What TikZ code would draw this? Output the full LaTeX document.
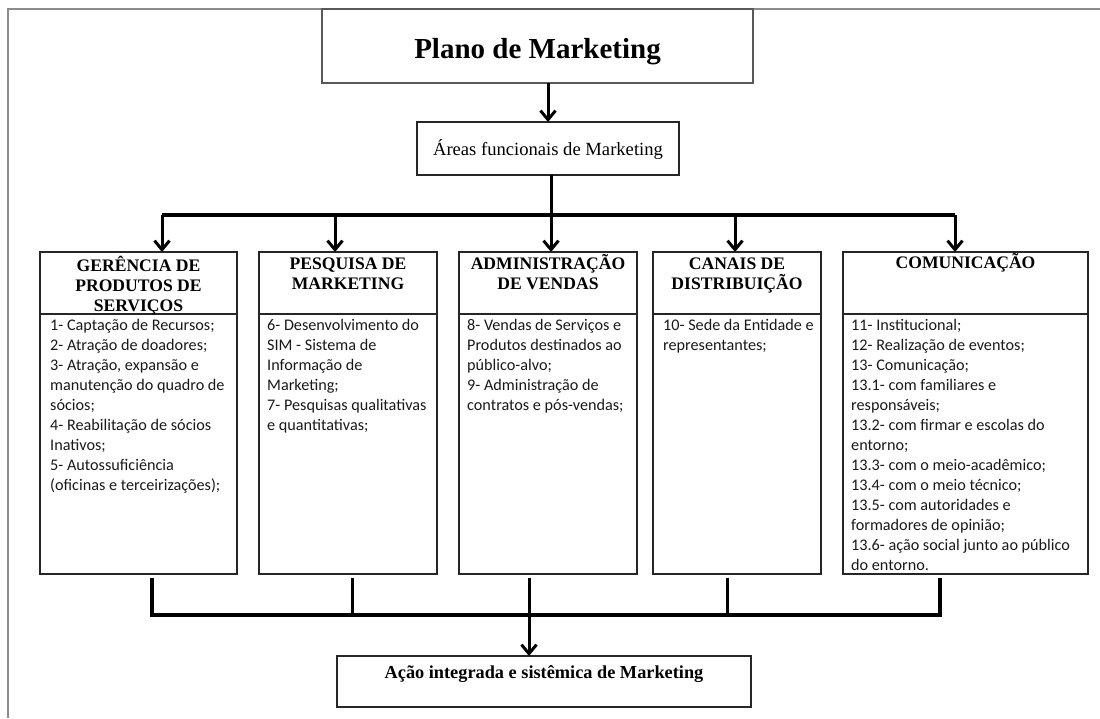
\documentclass[tikz,border=0pt]{standalone}
\usepackage{fontspec}
\setmainfont{Liberation Serif}
\newfontfamily\bodyfont{Carlito}
\usetikzlibrary{arrows.meta}
\begin{document}
\begin{tikzpicture}[x=1pt,y=-1pt,
  box/.style={draw=black!85,line width=1.1pt,inner sep=0pt,outer sep=0pt,anchor=north west},
  headtxt/.style={anchor=north,align=center,inner sep=0pt,font=\bfseries\fontsize{17.6}{20}\selectfont},
  bodytxt/.style={anchor=north west,align=left,inner sep=0pt,font=\bodyfont\fontsize{16.2}{20}\selectfont,text=black!90},
  stem/.style={line width=3pt},
  bus/.style={line width=4.5pt,line join=miter},
  arr/.style={line width=3pt,-{Straight Barb[length=9pt,width=15pt]}},
  frame/.style={draw=black!45,line width=1.2pt}
]
\useasboundingbox (0,0) rectangle (1100,718);
% page frame
\coordinate (fa) at (8,718);
\coordinate (fb) at (8,9);
\coordinate (fc) at (1100,9);
\draw[frame] (fa) -- (fb) -- (fc);

% title
\node[box,draw=black!65,line width=1.8pt,minimum width=431pt,minimum height=74pt] (plan) at (322,9) {};
\node[anchor=base,inner sep=0pt,font=\bfseries\fontsize{29}{34}\selectfont] (plantxt) at (537.5,58) {Plano de Marketing};

% areas
\node[box,minimum width=262pt,minimum height=53pt] (areas) at (417,122) {};
\node[anchor=base,inner sep=0pt,font=\fontsize{18.6}{22}\selectfont] (areastxt) at (548,155) {Áreas funcionais de Marketing};

% columns: headers and bodies
\node[box,minimum width=197pt,minimum height=62pt] (h1) at (40,252) {};
\node[box,minimum width=197pt,minimum height=260pt] (b1) at (40,314) {};
\node[box,minimum width=178pt,minimum height=62pt] (h2) at (259,252) {};
\node[box,minimum width=178pt,minimum height=260pt] (b2) at (259,314) {};
\node[box,minimum width=178pt,minimum height=62pt] (h3) at (459,252) {};
\node[box,minimum width=178pt,minimum height=260pt] (b3) at (459,314) {};
\node[box,minimum width=168pt,minimum height=62pt] (h4) at (653,252) {};
\node[box,minimum width=168pt,minimum height=260pt] (b4) at (653,314) {};
\node[box,minimum width=245pt,minimum height=62pt] (h5) at (843,252) {};
\node[box,minimum width=245pt,minimum height=260pt] (b5) at (843,314) {};

\node[headtxt] (ht1) at (138.5,253) {\rule{0pt}{18pt}GERÊNCIA DE\\PRODUTOS DE\\SERVIÇOS};
\node[headtxt] (ht2) at (348,251) {\rule{0pt}{18pt}PESQUISA DE\\MARKETING};
\node[headtxt] (ht3) at (548,251) {\rule{0pt}{18pt}ADMINISTRAÇÃO\\DE VENDAS};
\node[headtxt] (ht4) at (737,251) {\rule{0pt}{18pt}CANAIS DE\\DISTRIBUIÇÃO};
\node[headtxt] (ht5) at (965.5,250) {\rule{0pt}{18pt}COMUNICAÇÃO};

\node[bodytxt] (bt1) at (50,315) {\rule{0pt}{15pt}1- Captação de Recursos;\\2- Atração de doadores;\\3- Atração, expansão e\\manutenção do quadro de\\sócios;\\4- Reabilitação de sócios\\Inativos;\\5- Autossuficiência\\(oficinas e terceirizações);};
\node[bodytxt] (bt2) at (267,315) {\rule{0pt}{15pt}6- Desenvolvimento do\\SIM - Sistema de\\Informação de\\Marketing;\\7- Pesquisas qualitativas\\e quantitativas;};
\node[bodytxt] (bt3) at (467,315) {\rule{0pt}{15pt}8- Vendas de Serviços e\\Produtos destinados ao\\público-alvo;\\9- Administração de\\contratos e pós-vendas;};
\node[bodytxt] (bt4) at (663,315) {\rule{0pt}{15pt}10- Sede da Entidade e\\representantes;};
\node[bodytxt] (bt5) at (851,315) {\rule{0pt}{15pt}11- Institucional;\\12- Realização de eventos;\\13- Comunicação;\\13.1- com familiares e\\responsáveis;\\13.2- com firmar e escolas do\\entorno;\\13.3- com o meio-acadêmico;\\13.4- com o meio técnico;\\13.5- com autoridades e\\formadores de opinião;\\13.6- ação social junto ao público\\do entorno.};

% final
\node[box,minimum width=414pt,minimum height=51pt] (final) at (337,656) {};
\node[anchor=base,inner sep=0pt,font=\bfseries\fontsize{18.3}{22}\selectfont] (finaltxt) at (544,678) {Ação integrada e sistêmica de Marketing};

% top connectors
\draw[arr] (areas.north |- plan.south) -- (areas.north);
\coordinate (t1) at (162,215);
\coordinate (t2) at (335,215);
\coordinate (t3) at (551,215);
\coordinate (t4) at (735,215);
\coordinate (t5) at (955,215);
\draw[stem] (t3 |- areas.south) -- (t3);
\draw[bus] (t1) -- (t5);
\draw[arr] (t1) -- (t1 |- h1.north);
\draw[arr] (t2) -- (t2 |- h2.north);
\draw[arr] (t3) -- (t3 |- h3.north);
\draw[arr] (t4) -- (t4 |- h4.north);
\draw[arr] (t5) -- (t5 |- h5.north);

% bottom connectors
\coordinate (u1) at (152,615);
\coordinate (u2) at (352,615);
\coordinate (u3) at (529,615);
\coordinate (u4) at (727,615);
\coordinate (u5) at (940,615);
\draw[bus] ([yshift=-4pt]u1 |- b1.south) -- (u1) -- (u5) -- ([yshift=-4pt]u5 |- b5.south);
\draw[stem] ([yshift=-4pt]u2 |- b2.south) -- (u2);
\draw[stem] ([yshift=-4pt]u3 |- b3.south) -- (u3);
\draw[stem] ([yshift=-4pt]u4 |- b4.south) -- (u4);
\draw[arr] (u3) -- (u3 |- final.north);
\end{tikzpicture}
\end{document}
